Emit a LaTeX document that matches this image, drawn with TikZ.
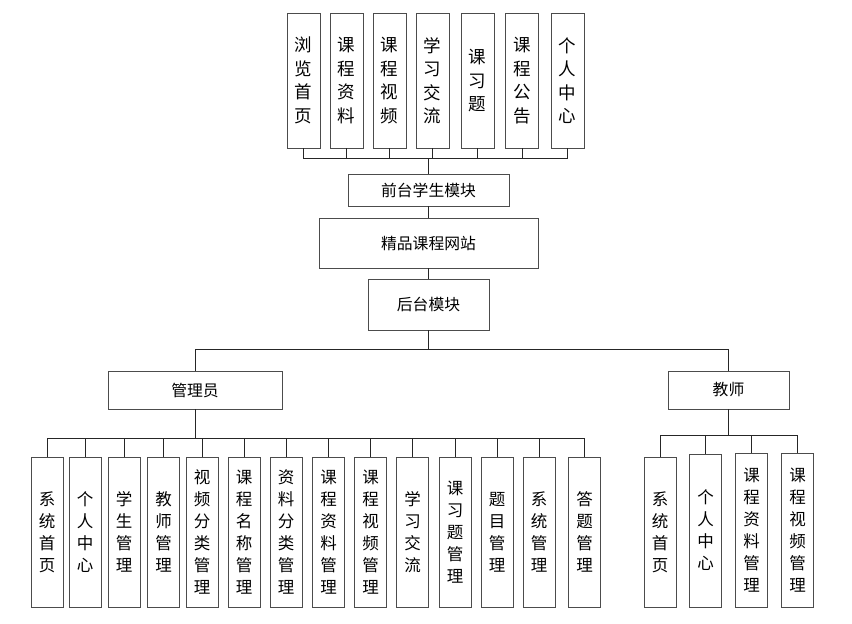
\documentclass[tikz,border=0pt]{standalone}
\usepackage{fontspec}
\setmainfont{Noto Sans CJK SC}
\begin{document}
\begin{tikzpicture}[x=1pt, y=-1pt,
  every node/.style = {draw=black!70, line width=0.8pt, align=center, inner sep=0pt, fill=white},
  topbox/.style = {minimum width=33pt, minimum height=135pt, font=\fontsize{17.5}{23.5}\selectfont},
  subbox/.style = {minimum width=32pt, minimum height=150pt, font=\fontsize{16.5}{22}\selectfont},
  hbox/.style = {font=\fontsize{15.8}{18}\selectfont},
  link/.style = {draw=black!85, line width=0.8pt}]
  \useasboundingbox (0,0) rectangle (852,624);
  % front-end pages
  \foreach \x/\t [count=\i] in {303.5/{浏\\览\\首\\页}, 346.5/{课\\程\\资\\料}, 389.5/{课\\程\\视\\频},
      432.5/{学\\习\\交\\流}, 477.5/{课\\习\\题}, 522/{课\\程\\公\\告}, 567.5/{个\\人\\中\\心}}
    \node [topbox] (t\i) at (\x,80.5) {\t};
  \node [hbox, minimum width=161pt, minimum height=32pt] (front) at (428.5,190) {前台学生模块};
  \node [hbox, minimum width=219pt, minimum height=50pt] (site) at (428.5,243) {精品课程网站};
  \node [hbox, minimum width=121pt, minimum height=51pt] (back) at (428.5,304.5) {后台模块};
  \node [hbox, minimum width=174pt, minimum height=38pt] (admin) at (195,390) {管理员};
  \node [hbox, minimum width=121pt, minimum height=38pt] (teacher) at (728.5,390) {教师};
  % admin pages
  \foreach \x/\t [count=\i] in {47/{系\\统\\首\\页}, 85/{个\\人\\中\\心}, 124/{学\\生\\管\\理},
      163.5/{教\\师\\管\\理}, 202/{视\\频\\分\\类\\管\\理}, 244/{课\\程\\名\\称\\管\\理},
      286/{资\\料\\分\\类\\管\\理}, 328.5/{课\\程\\资\\料\\管\\理}, 370.5/{课\\程\\视\\频\\管\\理},
      412.5/{学\\习\\交\\流}, 455/{课\\习\\题\\管\\理}, 497/{题\\目\\管\\理},
      539/{系\\统\\管\\理}, 584.5/{答\\题\\管\\理}}
    \node [subbox] (a\i) at (\x,532) {\t};
  % teacher pages
  \node [subbox] (s1) at (660,532) {系\\统\\首\\页};
  \node [subbox, minimum height=153pt] (s2) at (705.5,530.5) {个\\人\\中\\心};
  \node [subbox, minimum height=154pt] (s3) at (751.5,530) {课\\程\\资\\料\\管\\理};
  \node [subbox, minimum height=154pt] (s4) at (797.5,530) {课\\程\\视\\频\\管\\理};
  % connectors
  \coordinate (tbus) at (front.north |- 0,158);
  \foreach \i in {1,...,7}
    \draw [link] (t\i.south) |- (tbus);
  \draw [link] (tbus) -- (front.north);
  \draw [link] (front.south) -- (site.north);
  \draw [link] (site.south) -- (back.north);
  \draw [link] (back.south) -- ++(0,19) coordinate (bbus);
  \draw [link] (admin.north) |- (bbus) -| (teacher.north);
  \draw [link] (admin.south) -- ++(0,29) coordinate (abus);
  \foreach \i in {1,...,14}
    \draw [link] (abus) -| (a\i.north);
  \draw [link] (teacher.south) -- ++(0,26) coordinate (sbus);
  \foreach \i in {1,...,4}
    \draw [link] (sbus) -| (s\i.north);
\end{tikzpicture}
\end{document}
